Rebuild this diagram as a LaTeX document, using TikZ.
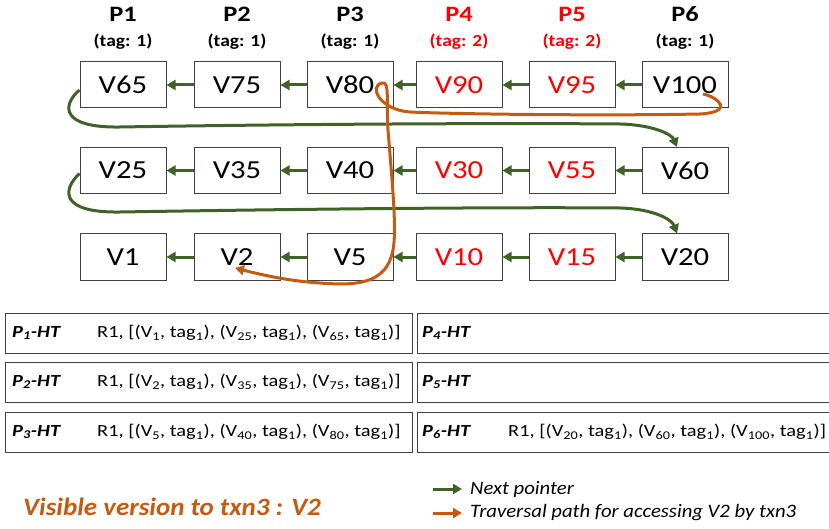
\documentclass[tikz,border=0pt]{standalone}
\usepackage{fontspec}
\usepackage{graphicx}
\setmainfont{Carlito}
\usetikzlibrary{arrows.meta}
\definecolor{pgreen}{RGB}{62,98,40}
\definecolor{porange}{RGB}{197,90,17}
\definecolor{pred}{RGB}{255,0,0}
\definecolor{boxgray}{RGB}{64,64,64}
\newcommand{\hstr}[2]{\scalebox{#1}[1]{#2}}
\newcommand{\sbt}[1]{\textsubscript{#1}}
\begin{document}
\begin{tikzpicture}[x=1pt,y=-1pt,
  vbox/.style={draw=boxgray,line width=1pt,fill=white,minimum width=86pt,minimum height=46pt,inner sep=0pt,font=\fontsize{26}{30}\selectfont},
  redtxt/.style={text=pred},
  phead/.style={font=\bfseries\fontsize{22}{26}\selectfont},
  ptag/.style={font=\bfseries\fontsize{17}{20}\selectfont},
  nextp/.style={draw=pgreen,line width=3pt,-{Triangle[length=9pt,width=10pt]}},
  trav/.style={draw=porange,line width=3pt,-{Triangle[length=9pt,width=10pt]}},
  htbox/.style={draw=boxgray,line width=1pt},
  httxt/.style={anchor=west,inner sep=0pt,font=\fontsize{17}{20}\selectfont},
  htname/.style={anchor=west,inner sep=0pt,font=\bfseries\itshape\fontsize{17}{20}\selectfont},
  legtxt/.style={anchor=west,inner sep=0pt,font=\itshape\fontsize{19}{22}\selectfont}]
\useasboundingbox (0,0) rectangle (829,529);
% headers
\foreach \nm/\x/\lab/\tg/\col in {1/123/P1/1/black,2/237/P2/1/black,3/350/P3/1/black,4/459/P4/2/pred,5/572/P5/2/pred,6/685/P6/1/black}{
  \node[phead,text=\col] (h\nm) at (\x,14) {\hstr{1.2}{\lab}};
  \node[ptag,text=\col] (t\nm) at (\x,42) {\hstr{1.15}{(tag: \tg)}};
}
% row 1
\node[vbox] (v65) at (123,85) {\hstr{1.18}{V65}};
\node[vbox] (v75) at (237,85) {\hstr{1.18}{V75}};
\node[vbox] (v80) at (350,85) {\hstr{1.18}{V80}};
\node[vbox,redtxt] (v90) at (459,85) {\hstr{1.18}{V90}};
\node[vbox,redtxt] (v95) at (572,85) {\hstr{1.18}{V95}};
\node[vbox] (v100) at (685,85) {\hstr{1.18}{V100}};
% row 2
\node[vbox] (v25) at (123,170.5) {\hstr{1.18}{V25}};
\node[vbox] (v35) at (237,170.5) {\hstr{1.18}{V35}};
\node[vbox] (v40) at (350,170.5) {\hstr{1.18}{V40}};
\node[vbox,redtxt] (v30) at (459,170.5) {\hstr{1.18}{V30}};
\node[vbox,redtxt] (v55) at (572,170.5) {\hstr{1.18}{V55}};
\node[vbox] (v60) at (685,170.5) {\hstr{1.18}{V60}};
% row 3
\node[vbox] (v1) at (123,257) {\hstr{1.18}{V1}};
\node[vbox] (v2) at (237,257) {\hstr{1.18}{V2}};
\node[vbox] (v5) at (350,257) {\hstr{1.18}{V5}};
\node[vbox,redtxt] (v10) at (459,257) {\hstr{1.18}{V10}};
\node[vbox,redtxt] (v15) at (572,257) {\hstr{1.18}{V15}};
\node[vbox] (v20) at (685,257) {\hstr{1.18}{V20}};
% next pointers
\draw[nextp] (v75) -- (v65);
\draw[nextp] (v80) -- (v75);
\draw[nextp] (v90) -- (v80);
\draw[nextp] (v95) -- (v90);
\draw[nextp] (v100) -- (v95);
\draw[nextp] (v35) -- (v25);
\draw[nextp] (v40) -- (v35);
\draw[nextp] (v30) -- (v40);
\draw[nextp] (v55) -- (v30);
\draw[nextp] (v60) -- (v55);
\draw[nextp] (v2) -- (v1);
\draw[nextp] (v5) -- (v2);
\draw[nextp] (v10) -- (v5);
\draw[nextp] (v15) -- (v10);
\draw[nextp] (v20) -- (v15);
\draw[nextp] ([yshift=-5pt]v65.west) .. controls (62,105) and (60,128) .. (120,127)
  .. controls (300,124) and (500,123) .. (620,124)
  .. controls (655,125) and (672,135) .. ([xshift=-8pt]v60.north);
\draw[nextp] ([yshift=-3pt]v25.west) .. controls (62,190) and (60,213) .. (120,212)
  .. controls (300,209) and (500,207) .. (620,208)
  .. controls (655,209) and (672,220) .. ([xshift=-8pt]v20.north);
% traversal path
\coordinate (ostart) at ([shift={(18,9)}]v100.center);
\coordinate (oend) at ([shift={(-2,11)}]v2.center);
\draw[trav] (ostart) .. controls (718,97) and (735,112) .. (700,114)
  .. controls (600,116) and (450,114) .. (410,112)
  .. controls (380,110) and (368,86) .. (382,83)
  .. controls (390,81) and (386,100) .. (388,130)
  .. controls (392,180) and (397,230) .. (393,250)
  .. controls (388,276) and (370,284) .. (340,284)
  .. controls (300,283) and (270,277) .. (oend);
% hash tables
\draw[htbox] (5,313) rectangle (412,353);
\draw[htbox] (5,362) rectangle (412,402);
\draw[htbox] (5,412) rectangle (412,452);
\draw[htbox] (835,313) -| (417,353) -- (835,353);
\draw[htbox] (835,362) -| (417,402) -- (835,402);
\draw[htbox] (835,412) -| (417,452) -- (835,452);
\node[htname] (n1) at (12,333) {\hstr{1.2}{P\sbt{1}-HT}};
\node[httxt] (r1) at (97,333) {\hstr{1.2}{R1, [(V\sbt{1}, tag\sbt{1}), (V\sbt{25}, tag\sbt{1}), (V\sbt{65}, tag\sbt{1})]}};
\node[htname] (n2) at (12,382) {\hstr{1.2}{P\sbt{2}-HT}};
\node[httxt] (r2) at (97,382) {\hstr{1.2}{R1, [(V\sbt{2}, tag\sbt{1}), (V\sbt{35}, tag\sbt{1}), (V\sbt{75}, tag\sbt{1})]}};
\node[htname] (n3) at (12,432) {\hstr{1.2}{P\sbt{3}-HT}};
\node[httxt] (r3) at (97,432) {\hstr{1.2}{R1, [(V\sbt{5}, tag\sbt{1}), (V\sbt{40}, tag\sbt{1}), (V\sbt{80}, tag\sbt{1})]}};
\node[htname] (n4) at (422,333) {\hstr{1.2}{P\sbt{4}-HT}};
\node[htname] (n5) at (422,382) {\hstr{1.2}{P\sbt{5}-HT}};
\node[htname] (n6) at (422,432) {\hstr{1.2}{P\sbt{6}-HT}};
\node[httxt] (r6) at (508,432) {\hstr{1.2}{R1, [(V\sbt{20}, tag\sbt{1}), (V\sbt{60}, tag\sbt{1}), (V\sbt{100}, tag\sbt{1})]}};
% bottom
\node[anchor=west,inner sep=0pt,text=porange,font=\bfseries\itshape\fontsize{25}{29}\selectfont] (vis) at (23,507) {\hstr{1.08}{Visible version to txn3 : V2}};
\coordinate (lg1a) at (433,489); \coordinate (lg1b) at (462,489);
\coordinate (lg2a) at (433,513); \coordinate (lg2b) at (462,513);
\draw[nextp] (lg1a) -- (lg1b);
\draw[trav] (lg2a) -- (lg2b);
\node[legtxt] (l1) at (470,489) {\hstr{1.09}{Next pointer}};
\node[legtxt] (l2) at (470,513) {\hstr{1.09}{Traversal path for accessing V2 by txn3}};
\end{tikzpicture}
\end{document}
